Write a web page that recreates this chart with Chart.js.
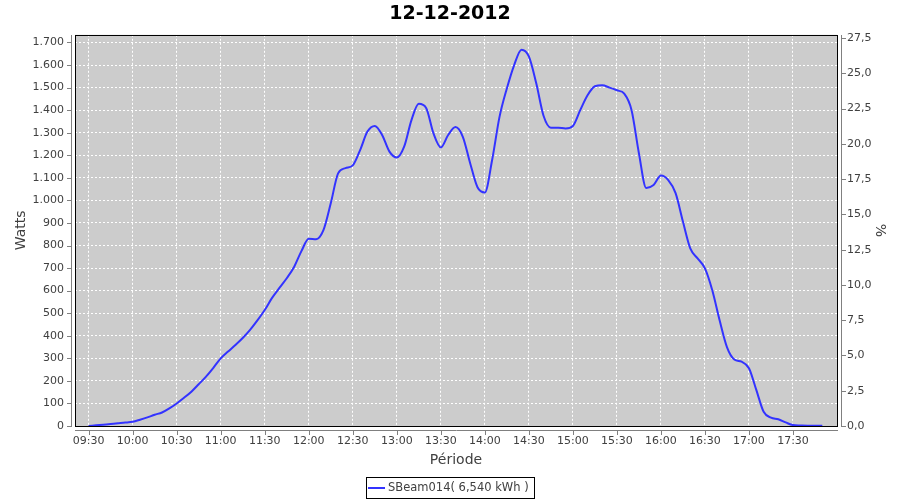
<!DOCTYPE html>
<html>
<head>
<meta charset="utf-8">
<script src="https://cdn.jsdelivr.net/npm/chart.js@4/dist/chart.umd.min.js"></script>
<style>
  html, body { margin: 0; padding: 0; background: #ffffff; }
  #wrap { width: 900px; height: 500px; }
</style>
</head>
<body>
<div id="wrap"><canvas id="c" width="900" height="500"></canvas></div>
<script>
const chartTitle = '12-12-2012';
const seriesLabel = 'SBeam014( 6,540 kWh )';
const xAxisTitle = 'Période';
const yLeftTitle = 'Watts';
const yRightTitle = '%';

const times = [
  '09:30','09:35','09:40','09:45','09:50','09:55',
  '10:00','10:05','10:10','10:15','10:20','10:25','10:30','10:35','10:40','10:45','10:50','10:55',
  '11:00','11:05','11:10','11:15','11:20','11:25','11:30','11:35','11:40','11:45','11:50','11:55',
  '12:00','12:05','12:10','12:15','12:20','12:25','12:30','12:35','12:40','12:45','12:50','12:55',
  '13:00','13:05','13:10','13:15','13:20','13:25','13:30','13:35','13:40','13:45','13:50','13:55',
  '14:00','14:05','14:10','14:15','14:20','14:25','14:30','14:35','14:40','14:45','14:50','14:55',
  '15:00','15:05','15:10','15:15','15:20','15:25','15:30','15:35','15:40','15:45','15:50','15:55',
  '16:00','16:05','16:10','16:15','16:20','16:25','16:30','16:35','16:40','16:45','16:50','16:55',
  '17:00','17:05','17:10','17:15','17:20','17:25','17:30','17:35','17:40','17:45','17:50'
];

const watts = [
  0, 3, 6, 9, 12, 15,
  19, 28, 38, 50, 60, 78, 100, 125, 152, 185, 219, 258,
  300, 330, 359, 390, 426, 468, 514, 568, 612, 655, 705, 775,
  830, 828, 868, 987, 1120, 1143, 1155, 1223, 1305, 1330, 1290, 1216,
  1190, 1238, 1356, 1428, 1410, 1297, 1235, 1290, 1325, 1282, 1165, 1058,
  1035, 1180, 1370, 1496, 1600, 1668, 1638, 1520, 1375, 1322, 1322, 1319,
  1330, 1400, 1466, 1506, 1510, 1500, 1488, 1473, 1400, 1209, 1055, 1068,
  1110, 1090, 1032, 906, 787, 743, 699, 602, 469, 350, 295, 285,
  256, 160, 63, 37, 30, 16, 4, 2, 1, 1, 1
];

const xTickLabels = ['09:30','10:00','10:30','11:00','11:30','12:00','12:30','13:00','13:30','14:00','14:30','15:00','15:30','16:00','16:30','17:00','17:30'];
const xRange = ['09:20.7', '18:00'];
const yLeftRange = [0, 1734];
const yLeftStep = 100;
const yRightRange = [0, 27.73];
const yRightStep = 2.5;

function toMin(s) {
  const p = s.split(':');
  return Number(p[0]) * 60 + Number(p[1]);
}
function fmtThousands(v) {
  v = Math.round(v);
  if (v >= 1000) {
    const r = v % 1000;
    return Math.floor(v / 1000) + '.' + String(r).padStart(3, '0');
  }
  return String(v);
}

const points = times.map((t, i) => ({ x: toMin(t), y: watts[i] }));

const FONT = '"DejaVu Sans", sans-serif';
const TICK_COLOR = '#404040';
const AXIS_GRAY = '#808080';

const plotFrame = {
  id: 'plotFrame',
  beforeDraw(chart) {
    const { ctx, chartArea: a } = chart;
    ctx.save();
    ctx.fillStyle = '#cccccc';
    ctx.fillRect(a.left, a.top, a.right - a.left, a.bottom - a.top);
    ctx.restore();
  },
  afterDraw(chart) {
    const { ctx, chartArea: a, scales } = chart;
    const L = Math.round(a.left), R = Math.round(a.right), T = Math.round(a.top), B = Math.round(a.bottom);
    ctx.save();
    ctx.lineWidth = 1;
    // black plot outline
    ctx.strokeStyle = '#000000';
    ctx.strokeRect(L + 0.5, T + 0.5, R - L, B - T);
    // offset gray axis lines with tick marks
    ctx.strokeStyle = AXIS_GRAY;
    ctx.beginPath();
    ctx.moveTo(L - 4 + 0.5, T);
    ctx.lineTo(L - 4 + 0.5, B + 1);
    scales.y.ticks.forEach(t => {
      const py = Math.round(scales.y.getPixelForValue(t.value)) + 0.5;
      ctx.moveTo(L - 8, py);
      ctx.lineTo(L - 4, py);
    });
    ctx.moveTo(R + 4 + 0.5, T);
    ctx.lineTo(R + 4 + 0.5, B + 1);
    scales.y2.ticks.forEach(t => {
      const py = Math.round(scales.y2.getPixelForValue(t.value)) + 0.5;
      ctx.moveTo(R + 5, py);
      ctx.lineTo(R + 9, py);
    });
    ctx.moveTo(L, B + 4 + 0.5);
    ctx.lineTo(R + 1, B + 4 + 0.5);
    scales.x.ticks.forEach(t => {
      const px = Math.round(scales.x.getPixelForValue(t.value)) + 0.5;
      ctx.moveTo(px, B + 5);
      ctx.lineTo(px, B + 9);
    });
    ctx.stroke();

    // legend
    const ds = chart.data.datasets[0];
    ctx.font = '11.5px ' + FONT;
    const tw = ctx.measureText(ds.label).width;
    const boxW = Math.round(22 + tw + 5);
    const boxX = Math.round(450 - boxW / 2);
    const boxY = 477;
    ctx.strokeStyle = '#000000';
    ctx.strokeRect(boxX + 0.5, boxY + 0.5, boxW, 21);
    ctx.strokeStyle = ds.borderColor;
    ctx.lineWidth = 2;
    ctx.beginPath();
    ctx.moveTo(boxX + 2, 488);
    ctx.lineTo(boxX + 19, 488);
    ctx.stroke();
    ctx.fillStyle = TICK_COLOR;
    ctx.textBaseline = 'middle';
    ctx.textAlign = 'left';
    ctx.fillText(ds.label, boxX + 22, 488);
    ctx.restore();
  }
};

new Chart(document.getElementById('c'), {
  type: 'line',
  data: {
    datasets: [{
      label: seriesLabel,
      data: points,
      borderColor: '#3333ff',
      backgroundColor: '#3333ff',
      borderWidth: 2,
      pointRadius: 0,
      pointHoverRadius: 0,
      fill: false,
      cubicInterpolationMode: 'monotone',
      yAxisID: 'y'
    }]
  },
  options: {
    responsive: false,
    animation: false,
    events: [],
    layout: { padding: { left: 0, right: 0, top: 0, bottom: 31.6 } },
    plugins: {
      legend: { display: false },
      tooltip: { enabled: false },
      title: {
        display: true,
        text: chartTitle,
        color: '#000000',
        font: { family: FONT, size: 19, weight: 'bold' },
        padding: { top: 3, bottom: 9 }
      }
    },
    scales: {
      x: {
        type: 'linear',
        position: 'bottom',
        min: toMin(xRange[0].split('.')[0]) + 0.7,
        max: toMin(xRange[1]),
        afterBuildTicks(scale) {
          scale.ticks = xTickLabels.map(l => ({ value: toMin(l), label: l }));
        },
        afterFit(scale) { scale.height = 42.4; },
        grid: { color: '#ffffff', lineWidth: 1, drawTicks: false },
        border: { display: false, dash: [2, 2] },
        ticks: {
          autoSkip: false,
          maxRotation: 0,
          padding: 9,
          color: TICK_COLOR,
          font: { family: FONT, size: 11 },
          callback(value) {
            const h = Math.floor(value / 60), m = Math.round(value % 60);
            return String(h).padStart(2, '0') + ':' + String(m).padStart(2, '0');
          }
        },
        title: {
          display: true,
          text: xAxisTitle,
          color: TICK_COLOR,
          font: { family: FONT, size: 14 },
          padding: { top: 0, bottom: 0 }
        }
      },
      y: {
        type: 'linear',
        position: 'left',
        min: yLeftRange[0],
        max: yLeftRange[1],
        afterFit(scale) { scale.width = 75; },
        grid: { color: '#ffffff', lineWidth: 1, drawTicks: false },
        border: { display: false, dash: [2, 2] },
        ticks: {
          stepSize: yLeftStep,
          includeBounds: false,
          padding: 11,
          color: TICK_COLOR,
          font: { family: FONT, size: 11 },
          callback: v => fmtThousands(v)
        },
        title: {
          display: true,
          text: yLeftTitle,
          color: TICK_COLOR,
          font: { family: FONT, size: 14 },
          padding: { top: 12.6, bottom: 0 }
        }
      },
      y2: {
        type: 'linear',
        position: 'right',
        min: yRightRange[0],
        max: yRightRange[1],
        afterFit(scale) { scale.width = 63; },
        grid: { display: false, drawOnChartArea: false, drawTicks: false },
        border: { display: false },
        ticks: {
          stepSize: yRightStep,
          includeBounds: false,
          padding: 10,
          color: TICK_COLOR,
          font: { family: FONT, size: 11 },
          callback: v => v.toFixed(1).replace('.', ',')
        },
        title: {
          display: true,
          text: yRightTitle,
          color: TICK_COLOR,
          font: { family: FONT, size: 14 },
          padding: { top: 11.6, bottom: 0 }
        }
      }
    }
  },
  plugins: [plotFrame]
});
</script>
</body>
</html>
